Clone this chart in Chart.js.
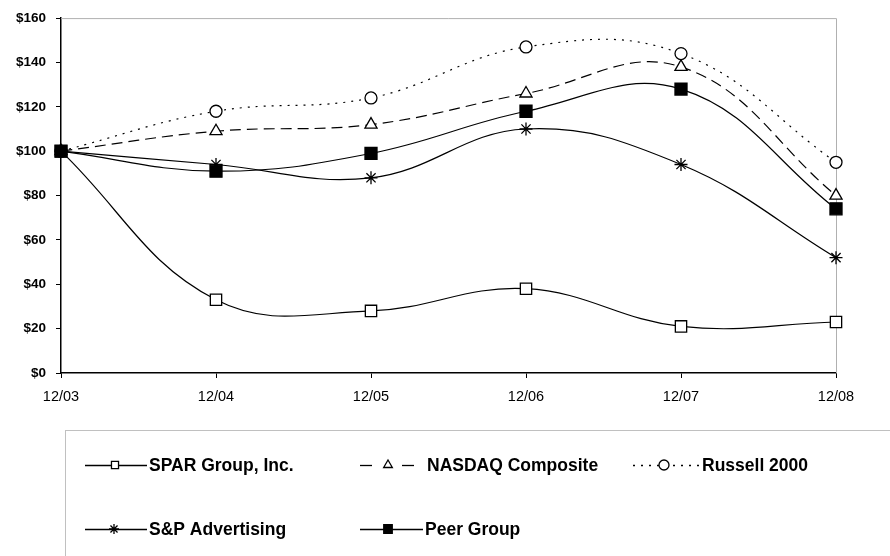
<!DOCTYPE html>
<html>
<head>
<meta charset="utf-8">
<script src="https://cdn.jsdelivr.net/npm/chart.js@4/dist/chart.umd.min.js"></script>
<style>
  html, body { margin: 0; padding: 0; background: #fff; }
  #wrap { position: relative; width: 890px; height: 556px; }
</style>
</head>
<body>
<div id="wrap"><canvas id="c" width="890" height="556"></canvas></div>
<script>
const categories = ['12/03', '12/04', '12/05', '12/06', '12/07', '12/08'];
const sparGroup = [100, 33, 28, 38, 21, 23];
const nasdaqComposite = [100, 109, 112, 126, 138, 80];
const russell2000 = [100, 118, 124, 147, 144, 95];
const spAdvertising = [100, 94, 88, 110, 94, 52];
const peerGroup = [100, 91, 99, 118, 128, 74];
const seriesNames = ['SPAR Group, Inc.', 'NASDAQ Composite', 'Russell 2000', 'S&P Advertising', 'Peer Group'];
const yMin = 0, yMax = 160, yStep = 20;

const PLOT_LEFT = 61, PLOT_RIGHT = 836, PLOT_TOP = 13, PLOT_BOTTOM = 373;

function ds(label, data, style, fill, dash, radius, order) {
  return {
    label, data, order,
    borderColor: '#000', backgroundColor: fill,
    borderWidth: 1.2, borderDash: dash,
    pointStyle: style, pointRadius: radius,
    pointBorderColor: '#000', pointBackgroundColor: fill, pointBorderWidth: 1.3,
    tension: 0.4, fill: false
  };
}

const datasets = [
  ds(seriesNames[0], sparGroup, 'rect', '#fff', [], 8, 4),
  ds(seriesNames[1], nasdaqComposite, 'triangle', '#fff', [11, 6], 7, 3),
  ds(seriesNames[2], russell2000, 'circle', '#fff', [2, 6], 6, 2),
  ds(seriesNames[3], spAdvertising, 'star', '#000', [], 6.5, 1),
  ds(seriesNames[4], peerGroup, 'rect', '#000', [], 8.5, 0)
];

const frame = {
  id: 'frame',
  beforeDatasetsDraw(chart) {
    const {ctx, chartArea: a} = chart;
    ctx.save();
    ctx.strokeStyle = '#b0b0b0';
    ctx.lineWidth = 1;
    ctx.beginPath();
    ctx.moveTo(a.left, a.top + 0.5);
    ctx.lineTo(a.right + 0.5, a.top + 0.5);
    ctx.lineTo(a.right + 0.5, a.bottom);
    ctx.stroke();
    ctx.restore();
  }
};

const legendBox = {
  id: 'legendBox',
  afterDraw(chart) {
    const ctx = chart.ctx;
    ctx.save();
    ctx.strokeStyle = '#c0c0c0';
    ctx.lineWidth = 1;
    ctx.strokeRect(65.5, 430.5, 840, 140);
    // sample segments, marker centre, text x, row y
    const pos = [
      {segs: [[85, 147]], xm: 115, tx: 149, y: 465},
      {segs: [[360, 372], [402, 414]], xm: 388, tx: 427, y: 465},
      {segs: [[633, 700]], dash: [2, 6], xm: 664, tx: 702, y: 465},
      {segs: [[85, 147]], xm: 114, tx: 149, y: 529},
      {segs: [[360, 423]], xm: 388, tx: 425, y: 529}
    ];
    const legendRadius = [5, 5, 5, 5, 6];
    chart.data.datasets.forEach((d, i) => {
      const p = pos[i];
      ctx.strokeStyle = '#000';
      ctx.lineWidth = 1.3;
      ctx.setLineDash(p.dash || []);
      p.segs.forEach(s => {
        ctx.beginPath();
        ctx.moveTo(s[0], p.y + 0.5);
        ctx.lineTo(s[1], p.y + 0.5);
        ctx.stroke();
      });
      ctx.setLineDash([]);
      ctx.fillStyle = d.pointBackgroundColor;
      ctx.strokeStyle = '#000';
      Chart.helpers.drawPoint(ctx, {pointStyle: d.pointStyle, radius: legendRadius[i], rotation: 0, borderWidth: 1.2}, p.xm, p.y);
      ctx.fillStyle = '#000';
      ctx.font = 'bold 17.5px "Liberation Sans", Arial, sans-serif';
      ctx.textBaseline = 'middle';
      ctx.textAlign = 'left';
      ctx.fillText(d.label, p.tx, p.y + 1);
    });
    ctx.restore();
  }
};

new Chart(document.getElementById('c'), {
  type: 'line',
  data: { labels: categories, datasets },
  options: {
    responsive: false,
    animation: false,
    devicePixelRatio: 1,
    layout: { padding: { left: 0, right: 890 - PLOT_RIGHT, top: PLOT_TOP, bottom: 556 - PLOT_BOTTOM - 36 } },
    plugins: { legend: { display: false }, tooltip: { enabled: false } },
    scales: {
      x: {
        offset: false,
        afterFit(s) { s.height = 36; },
        grid: { display: true, drawOnChartArea: false, drawTicks: true, tickLength: 5, color: '#000', lineWidth: 1 },
        border: { display: true, color: '#000', width: 1.5 },
        ticks: { color: '#000', font: { family: 'Liberation Sans, Arial, sans-serif', size: 14.5 }, padding: 10, maxRotation: 0, autoSkip: false }
      },
      y: {
        min: yMin, max: yMax,
        afterFit(s) { s.width = PLOT_LEFT; },
        grid: { display: true, drawOnChartArea: false, drawTicks: true, tickLength: 5, color: '#000', lineWidth: 1 },
        border: { display: true, color: '#000', width: 1.5 },
        ticks: { stepSize: yStep, color: '#000', font: { family: 'Liberation Sans, Arial, sans-serif', size: 13.5, weight: 'bold' }, padding: 10,
          callback: v => '$' + v }
      }
    }
  },
  plugins: [frame, legendBox]
});
</script>
</body>
</html>
